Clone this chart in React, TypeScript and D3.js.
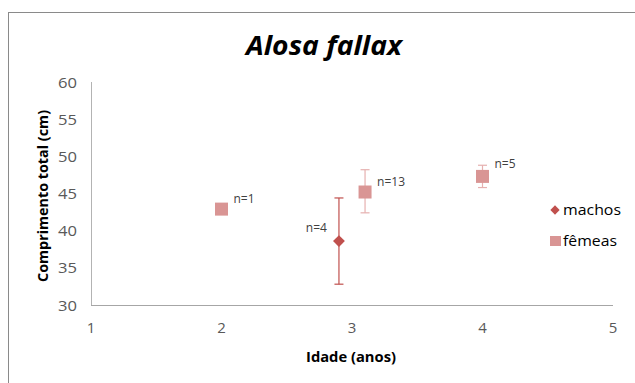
import React from "react";
import * as d3 from "d3";

const xTicks = [1, 2, 3, 4, 5];
const yTicks = [30, 35, 40, 45, 50, 55, 60];

const machosX = [2.9];
const machosY = [38.6];
const machosLo = [32.8];
const machosHi = [44.4];
const machosN = ["n=4"];

const femeasX = [2, 3.1, 4];
const femeasY = [42.9, 45.2, 47.3];
const femeasLo = [42.9, 42.4, 45.8];
const femeasHi = [42.9, 48.2, 48.8];
const femeasN = ["n=1", "n=13", "n=5"];

const W = 635;
const H = 383;
const FONT = "'Open Sans', 'Liberation Sans', sans-serif";
const RED = "#C0504D";
const PINK = "#D99594";
const PINK_ERR = "#E6B0AF";

export default function App() {
  const x = d3.scaleLinear().domain([1, 5]).range([91, 613]);
  const y = d3.scaleLinear().domain([30, 60]).range([305, 82]);
  const diamond = d3.symbol().type(d3.symbolDiamond2).size(90)();

  return (
    <svg width={W} height={H} style={{ position: "absolute", left: 0, top: 0, background: "#fff" }}>
      <rect x={0} y={0} width={W} height={H} fill="#fff" />
      <rect x={8.5} y={12.5} width={700} height={500} fill="none" stroke="#8a8a8a" strokeWidth={1} />
      <text x={324} y={55} textAnchor="middle" fontFamily={FONT} fontSize={27} fontWeight="bold" fontStyle="italic" fill="#000" textLength={156} lengthAdjust="spacingAndGlyphs">
        Alosa fallax
      </text>
      {/* axes */}
      <line x1={91.5} y1={82} x2={91.5} y2={305} stroke="#b3b3b3" />
      <line x1={91} y1={305.5} x2={613} y2={305.5} stroke="#a6a6a6" />
      {yTicks.map((t) => (
        <text key={"y" + t} x={77} y={y(t) + 5.5} textAnchor="end" fontFamily={FONT} fontSize={15} fill="#595959" textLength={19} lengthAdjust="spacingAndGlyphs">
          {t}
        </text>
      ))}
      {xTicks.map((t) => (
        <text key={"x" + t} x={x(t)} y={333} textAnchor="middle" fontFamily={FONT} fontSize={15} fill="#595959">
          {t}
        </text>
      ))}
      <text x={351} y={362} textAnchor="middle" fontFamily={FONT} fontSize={15} fontWeight="bold" fill="#000" textLength={90} lengthAdjust="spacingAndGlyphs">
        Idade (anos)
      </text>
      <text transform={`translate(48,196) rotate(-90)`} textAnchor="middle" fontFamily={FONT} fontSize={15} fontWeight="bold" fill="#000" textLength={172} lengthAdjust="spacingAndGlyphs">
        Comprimento total (cm)
      </text>
      {/* femeas error bars */}
      {femeasX.map((v, i) =>
        femeasHi[i] !== femeasLo[i] ? (
          <g key={"fe" + i} stroke={PINK_ERR} strokeWidth={1.2}>
            <line x1={x(v)} x2={x(v)} y1={y(femeasHi[i])} y2={y(femeasLo[i])} />
            <line x1={x(v) - 4.5} x2={x(v) + 4.5} y1={y(femeasHi[i])} y2={y(femeasHi[i])} />
            <line x1={x(v) - 4.5} x2={x(v) + 4.5} y1={y(femeasLo[i])} y2={y(femeasLo[i])} />
          </g>
        ) : null
      )}
      {femeasX.map((v, i) => (
        <rect key={"fs" + i} x={x(v) - 6.5} y={y(femeasY[i]) - 6.5} width={13} height={13} fill={PINK} />
      ))}
      {femeasX.map((v, i) => (
        <text key={"fn" + i} x={x(v) + 12} y={y(femeasY[i]) - 6 - (i === 2 ? 2 : 0)} fontFamily={FONT} fontSize={12} fill="#404040">
          {femeasN[i]}
        </text>
      ))}
      {/* machos */}
      {machosX.map((v, i) => (
        <g key={"me" + i} stroke={RED} strokeWidth={1.2}>
          <line x1={x(v)} x2={x(v)} y1={y(machosHi[i])} y2={y(machosLo[i])} />
          <line x1={x(v) - 4.5} x2={x(v) + 4.5} y1={y(machosHi[i])} y2={y(machosHi[i])} />
          <line x1={x(v) - 4.5} x2={x(v) + 4.5} y1={y(machosLo[i])} y2={y(machosLo[i])} />
        </g>
      ))}
      {machosX.map((v, i) => (
        <path key={"md" + i} d={diamond} transform={`translate(${x(v)},${y(machosY[i])})`} fill={RED} />
      ))}
      {machosX.map((v, i) => (
        <text key={"mn" + i} x={x(v) - 12} y={y(machosY[i]) - 9} textAnchor="end" fontFamily={FONT} fontSize={12} fill="#404040">
          {machosN[i]}
        </text>
      ))}
      {/* legend */}
      <path d={d3.symbol().type(d3.symbolDiamond2).size(55)()} transform="translate(555,210)" fill={RED} />
      <text x={563} y={215} fontFamily={FONT} fontSize={15} fill="#000" textLength={58} lengthAdjust="spacingAndGlyphs">machos</text>
      <rect x={550} y={236} width={11} height={10} fill={PINK} />
      <text x={563} y={246} fontFamily={FONT} fontSize={15} fill="#000" textLength={54} lengthAdjust="spacingAndGlyphs">fêmeas</text>
    </svg>
  );
}
